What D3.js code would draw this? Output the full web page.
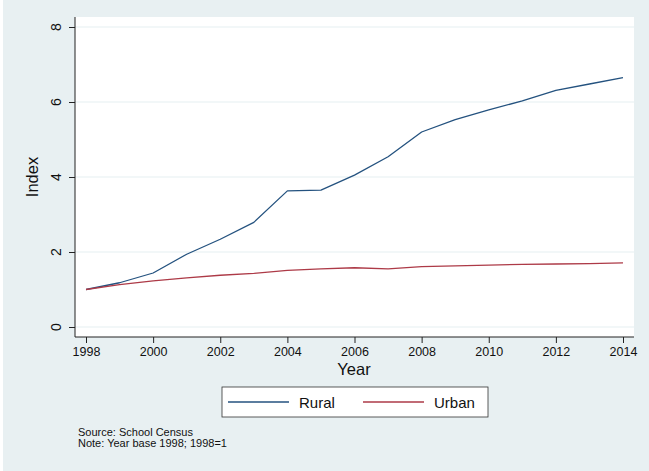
<!DOCTYPE html>
<html><head><meta charset="utf-8">
<script src="https://cdn.jsdelivr.net/npm/d3@7"></script>
<style>
html,body{margin:0;padding:0;background:#e8f0f2;}
svg{display:block;font-family:"Liberation Sans",Arial,Helvetica,sans-serif;}
</style></head>
<body>
<svg id="chart" width="649" height="471"></svg>
<script>
const years = [1998,1999,2000,2001,2002,2003,2004,2005,2006,2007,2008,2009,2010,2011,2012,2013,2014];
const rural = [1.0,1.18,1.44,1.94,2.34,2.79,3.63,3.65,4.05,4.54,5.20,5.53,5.79,6.03,6.31,6.48,6.65];
const urban = [1.0,1.13,1.23,1.31,1.38,1.43,1.51,1.55,1.58,1.55,1.61,1.63,1.65,1.67,1.68,1.69,1.71];
const xTicks = [1998,2000,2002,2004,2006,2008,2010,2012,2014];
const yTicks = [0,2,4,6,8];
const seriesNames = ["Rural","Urban"];
const seriesColors = ["#24527f","#ad3a47"];

const svg = d3.select("#chart");
svg.append("rect").attr("width",649).attr("height",471).attr("fill","#e8f0f2");
svg.append("rect").attr("width",3).attr("height",471).attr("fill","#ffffff");

const plot = {left:75, right:634, top:17, bottom:337};
svg.append("rect").attr("x",plot.left).attr("y",plot.top)
  .attr("width",plot.right-plot.left).attr("height",plot.bottom-plot.top).attr("fill","#ffffff");

const x = d3.scaleLinear().domain([1998,2014]).range([86,623]);
const y = d3.scaleLinear().domain([0,8]).range([327,27]);

// gridlines
svg.append("g").selectAll("line").data(yTicks).join("line")
  .attr("x1",plot.left).attr("x2",plot.right)
  .attr("y1",d=>y(d)).attr("y2",d=>y(d))
  .attr("stroke","#e6eff1").attr("stroke-width",1.2);

// y axis (ticks)
const yAxis = svg.append("g").attr("transform",`translate(${plot.left},0)`)
  .call(d3.axisLeft(y).tickValues(yTicks).tickSize(6).tickFormat(""));
yAxis.select(".domain").attr("d",`M0,${plot.top}V${plot.bottom}`).attr("stroke","#222");
yAxis.selectAll(".tick line").attr("stroke","#222");
yAxis.selectAll(".tick text").remove();

// y tick labels, rotated (Stata style)
svg.append("g").selectAll("text").data(yTicks).join("text")
  .attr("transform",d=>`translate(56,${y(d)}) rotate(-90)`)
  .attr("text-anchor","middle")
  .attr("dominant-baseline","central")
  .style("font-size","14px").style("fill","#111")
  .text(d=>d3.format("d")(d));

// x axis
const xAxis = svg.append("g").attr("transform",`translate(0,${plot.bottom})`)
  .call(d3.axisBottom(x).tickValues(xTicks).tickSize(6).tickPadding(4).tickFormat(d3.format("d")));
xAxis.select(".domain").attr("d",`M${plot.left},0H${plot.right}`).attr("stroke","#222");
xAxis.selectAll(".tick line").attr("stroke","#222");
xAxis.selectAll(".tick text").attr("font-size",12.5).attr("fill","#111")
  .attr("font-family","Liberation Sans, Arial, sans-serif");

// axis titles
svg.append("text").attr("transform","translate(38,177) rotate(-90)")
  .attr("text-anchor","middle").attr("font-size",16.5).attr("fill","#111").text("Index");
svg.append("text").attr("x",354).attr("y",375)
  .attr("text-anchor","middle").attr("font-size",16.5).attr("fill","#111").text("Year");

// lines
const line = d3.line().x((d,i)=>x(years[i])).y(d=>y(d));
[rural,urban].forEach((s,k)=>{
  svg.append("path").datum(s).attr("d",line)
    .attr("fill","none").attr("stroke",seriesColors[k]).attr("stroke-width",1.3)
    .attr("stroke-linejoin","round");
});

// legend
const lg = svg.append("g");
lg.append("rect").attr("x",222).attr("y",387).attr("width",266).attr("height",30)
  .attr("fill","#fff").attr("stroke","#333").attr("stroke-width",0.8);
const legX = [228,363];
seriesNames.forEach((n,k)=>{
  lg.append("line").attr("x1",legX[k]).attr("x2",legX[k]+61).attr("y1",402).attr("y2",402)
    .attr("stroke",seriesColors[k]).attr("stroke-width",1.3);
  lg.append("text").attr("x",legX[k]+71).attr("y",407.5).attr("font-size",15).attr("fill","#111").text(n);
});

// notes
svg.append("text").attr("x",78).attr("y",436).attr("font-size",11).attr("fill","#111").text("Source: School Census");
svg.append("text").attr("x",78).attr("y",447).attr("font-size",11).attr("fill","#111").text("Note: Year base 1998; 1998=1");
</script>
</body></html>
